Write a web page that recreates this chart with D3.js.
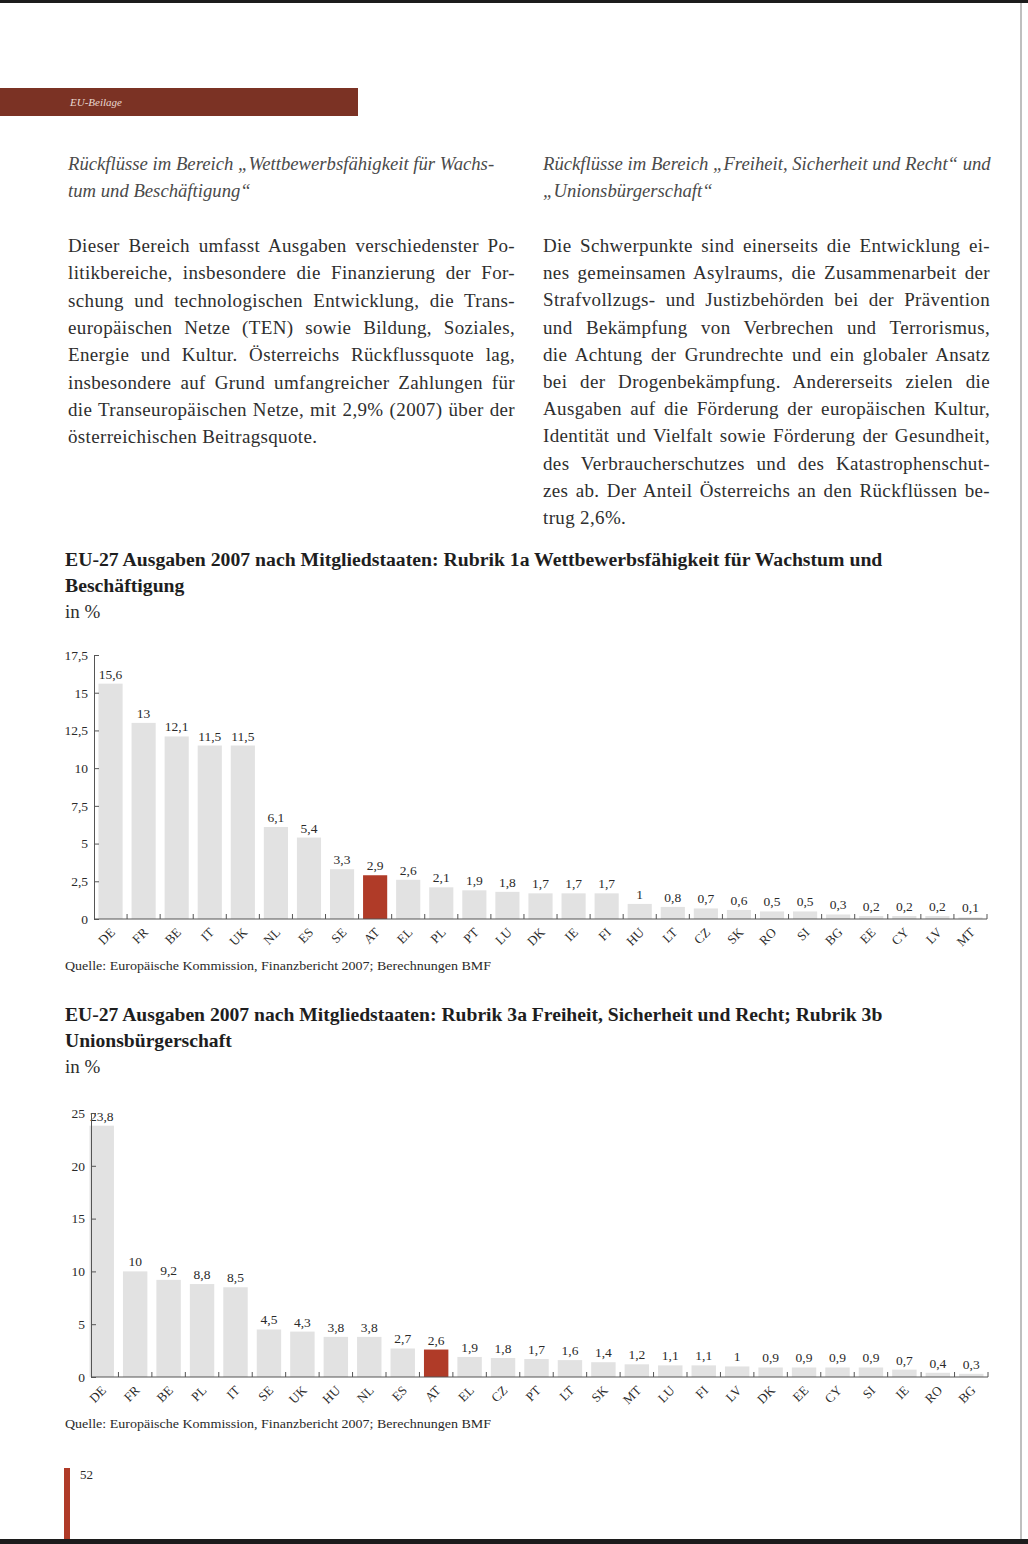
<!DOCTYPE html>
<html>
<head>
<meta charset="utf-8">
<script src="https://cdn.jsdelivr.net/npm/d3@7"></script>
<style>
  body { margin: 0; background: #fff; }
  svg { display: block; }
</style>
</head>
<body>
<script>
// chart 1: Rubrik 1a
const countries1 = ["DE","FR","BE","IT","UK","NL","ES","SE","AT","EL","PL","PT","LU","DK","IE","FI","HU","LT","CZ","SK","RO","SI","BG","EE","CY","LV","MT"];
const values1 = [15.6,13,12.1,11.5,11.5,6.1,5.4,3.3,2.9,2.6,2.1,1.9,1.8,1.7,1.7,1.7,1,0.8,0.7,0.6,0.5,0.5,0.3,0.2,0.2,0.2,0.1];
const yTicks1 = [0,2.5,5,7.5,10,12.5,15,17.5];

// chart 2: Rubrik 3a + 3b
const countries2 = ["DE","FR","BE","PL","IT","SE","UK","HU","NL","ES","AT","EL","CZ","PT","LT","SK","MT","LU","FI","LV","DK","EE","CY","SI","IE","RO","BG"];
const values2 = [23.8,10,9.2,8.8,8.5,4.5,4.3,3.8,3.8,2.7,2.6,1.9,1.8,1.7,1.6,1.4,1.2,1.1,1.1,1,0.9,0.9,0.9,0.9,0.7,0.4,0.3];
const yTicks2 = [0,5,10,15,20,25];

const highlight = "AT";

const leftHead = ["Rückflüsse im Bereich „Wettbewerbsfähigkeit für Wachs-", "tum und Beschäftigung“"];
const leftBody = [
  "Dieser Bereich umfasst Ausgaben verschiedenster Po-",
  "litikbereiche, insbesondere die Finanzierung der For-",
  "schung und technologischen Entwicklung, die Trans-",
  "europäischen Netze (TEN) sowie Bildung, Soziales,",
  "Energie und Kultur. Österreichs Rückflussquote lag,",
  "insbesondere auf Grund umfangreicher Zahlungen für",
  "die Transeuropäischen Netze, mit 2,9% (2007) über der",
  "österreichischen Beitragsquote."
];
const rightHead = ["Rückflüsse im Bereich „Freiheit, Sicherheit und Recht“ und", "„Unionsbürgerschaft“"];
const rightBody = [
  "Die Schwerpunkte sind einerseits die Entwicklung ei-",
  "nes gemeinsamen Asylraums, die Zusammenarbeit der",
  "Strafvollzugs- und Justizbehörden bei der Prävention",
  "und Bekämpfung von Verbrechen und Terrorismus,",
  "die Achtung der Grundrechte und ein globaler Ansatz",
  "bei der Drogenbekämpfung. Andererseits zielen die",
  "Ausgaben auf die Förderung der europäischen Kultur,",
  "Identität und Vielfalt sowie Förderung der Gesundheit,",
  "des Verbraucherschutzes und des Katastrophenschut-",
  "zes ab. Der Anteil Österreichs an den Rückflüssen be-",
  "trug 2,6%."
];
const title1 = ["EU-27 Ausgaben 2007 nach Mitgliedstaaten: Rubrik 1a Wettbewerbsfähigkeit für Wachstum und", "Beschäftigung"];
const title2 = ["EU-27 Ausgaben 2007 nach Mitgliedstaaten: Rubrik 3a Freiheit, Sicherheit und Recht; Rubrik 3b", "Unionsbürgerschaft"];
const source = "Quelle: Europäische Kommission, Finanzbericht 2007; Berechnungen BMF";

let width = 1028, height = 1544;
const serif = "'Liberation Serif', 'Times New Roman', serif";
const red = "#b03b28";

let svg = d3.select("body")
    .append("svg")
    .attr("width", width)
    .attr("height", height)
    .style("font-family", serif);

// scan edges
svg.append("rect").attr("x", 0).attr("y", 0).attr("width", width).attr("height", 3).attr("fill", "#1c1c1c");
svg.append("rect").attr("x", 0).attr("y", 1539).attr("width", width).attr("height", 5).attr("fill", "#1c1c1c");
svg.append("line").attr("x1", 1021).attr("x2", 1021).attr("y1", 3).attr("y2", 1539)
    .attr("stroke", "#aaa").attr("stroke-width", 1.5);

// header band
svg.append("rect").attr("x", 0).attr("y", 88).attr("width", 358).attr("height", 28).attr("fill", "#7b3224");
svg.append("text").attr("x", 70).attr("y", 106)
    .text("EU-Beilage")
    .style("font-style", "italic").style("font-size", "11px").attr("fill", "#ead9d2");

// fit a text element's word spacing to a given width
function justify(node, w) {
    const n = node.getComputedTextLength();
    const spaces = (node.textContent.match(/ /g) || []).length;
    if (spaces) d3.select(node).style("word-spacing", ((w - n) / spaces) + "px");
}

function column(x, w, head, body, bodyStep) {
    head.forEach((t, i) => {
        svg.append("text").attr("x", x).attr("y", 170 + i * 27)
            .text(t)
            .style("font-style", "italic").style("font-size", "18.7px").attr("fill", "#4a4a4a");
    });
    body.forEach((t, i) => {
        let txt = svg.append("text").attr("x", x).attr("y", 252 + i * bodyStep)
            .text(t)
            .style("font-size", "19px").style("letter-spacing", "0.35px").attr("fill", "#2e2e2e");
        if (i < body.length - 1) justify(txt.node(), w);
    });
}
column(68, 447, leftHead, leftBody, 27.3);
column(543, 447, rightHead, rightBody, 27.2);

const fmt = d => String(d).replace(".", ",");

function title(lines, y) {
    let t0 = svg.append("text").attr("x", 65).attr("y", y).text(lines[0])
        .style("font-weight", "bold").style("font-size", "19px").attr("fill", "#1e1e1e");
    const fs = 19 * 818 / t0.node().getComputedTextLength();
    t0.style("font-size", fs + "px");
    svg.append("text").attr("x", 65).attr("y", y + 26).text(lines[1])
        .style("font-weight", "bold").style("font-size", fs + "px").attr("fill", "#1e1e1e");
    svg.append("text").attr("x", 65).attr("y", y + 52).text("in %")
        .style("font-size", "19px").attr("fill", "#2e2e2e");
}

function chart(cfg) {
    let g = svg.append("g");

    let xScale = d3.scaleBand()
        .domain(cfg.cats)
        .range([cfg.bandStart, cfg.right])
        .paddingInner(0.27)
        .paddingOuter(0.135);

    let yScale = d3.scaleLinear()
        .domain([0, d3.max(cfg.ticks)])
        .range([cfg.y0, cfg.yTop]);

    const data = cfg.cats.map((c, i) => ({ c: c, v: cfg.vals[i] }));

    g.selectAll(".bar")
        .data(data)
        .enter().append("rect")
        .attr("x", d => xScale(d.c))
        .attr("y", d => yScale(d.v))
        .attr("width", xScale.bandwidth())
        .attr("height", d => cfg.y0 - yScale(d.v))
        .attr("fill", d => d.c === highlight ? red : "#e2e2e2");

    g.selectAll(".val")
        .data(data)
        .enter().append("text")
        .attr("x", d => xScale(d.c) + xScale.bandwidth() / 2)
        .attr("y", d => yScale(d.v) - 5)
        .attr("text-anchor", "middle")
        .style("font-size", "13.5px")
        .attr("fill", "#2a2a2a")
        .text(d => fmt(d.v));

    let yAxis = g.append("g")
        .attr("transform", `translate(${cfg.axisX},0)`)
        .call(d3.axisLeft(yScale).tickValues(cfg.ticks).tickFormat(fmt)
            .tickSizeInner(-5).tickSizeOuter(0).tickPadding(6));
    yAxis.select(".domain").attr("stroke", "#555");
    yAxis.selectAll(".tick line").attr("stroke", "#555");
    yAxis.selectAll("text")
        .style("font-family", serif).style("font-size", "13.5px").attr("fill", "#2a2a2a");

    // x axis line with boundary ticks
    g.append("line")
        .attr("x1", cfg.axisX).attr("x2", cfg.right)
        .attr("y1", cfg.y0).attr("y2", cfg.y0)
        .attr("stroke", "#555");
    g.selectAll(".xtick")
        .data(cfg.cats)
        .enter().append("line")
        .attr("x1", d => xScale(d) + xScale.bandwidth() + xScale.step() * 0.135)
        .attr("x2", d => xScale(d) + xScale.bandwidth() + xScale.step() * 0.135)
        .attr("y1", cfg.y0).attr("y2", cfg.y0 - 5)
        .attr("stroke", "#555");

    g.selectAll(".xlab")
        .data(cfg.cats)
        .enter().append("text")
        .attr("transform", d => `translate(${xScale(d) + xScale.bandwidth() / 2 + 2},${cfg.y0 + 11}) rotate(-45)`)
        .attr("text-anchor", "end")
        .attr("dy", "0.35em")
        .style("font-size", "13px")
        .attr("fill", "#2a2a2a")
        .text(d => d);

    let src = svg.append("text").attr("x", 65).attr("y", cfg.srcY)
        .text(source).style("font-size", "12.5px").attr("fill", "#2a2a2a");
    src.attr("textLength", 426).attr("lengthAdjust", "spacingAndGlyphs");
}

title(title1, 566);
chart({ cats: countries1, vals: values1, ticks: yTicks1,
        axisX: 94, bandStart: 94, right: 987, y0: 919, yTop: 655, srcY: 970 });

title(title2, 1021);
chart({ cats: countries2, vals: values2, ticks: yTicks2,
        axisX: 91, bandStart: 85, right: 988, y0: 1377, yTop: 1113, srcY: 1428 });

// page number
svg.append("rect").attr("x", 64).attr("y", 1468).attr("width", 6).attr("height", 71).attr("fill", red);
svg.append("text").attr("x", 80).attr("y", 1479).text("52")
    .style("font-size", "13px").attr("fill", "#2a2a2a");
</script>
</body>
</html>
